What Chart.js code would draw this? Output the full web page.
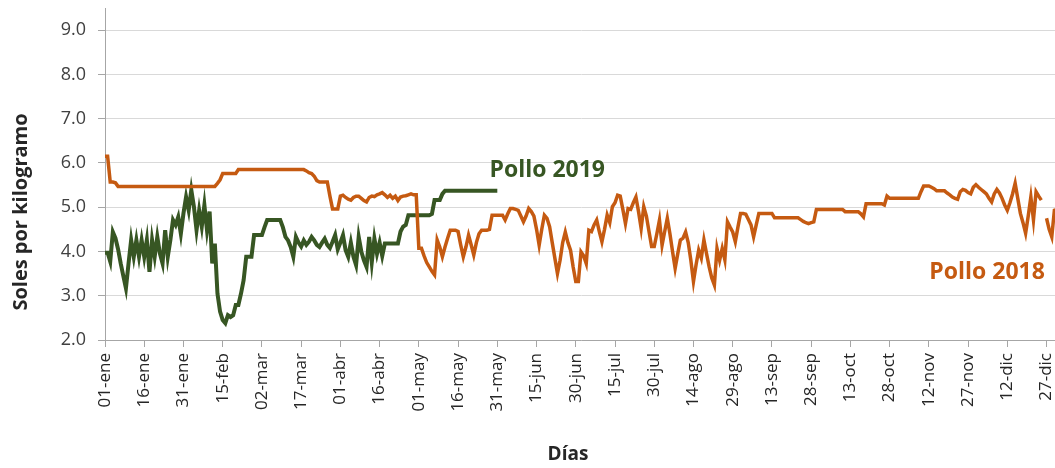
<!DOCTYPE html>
<html>
<head>
<meta charset="utf-8">
<script src="https://cdn.jsdelivr.net/npm/chart.js@4.4.1/dist/chart.umd.min.js"></script>
<style>
  html, body { margin: 0; padding: 0; background: #fff; overflow: hidden; }
  #wrap { position: absolute; left: 0; top: 0; width: 1075px; height: 468px; }
</style>
</head>
<body>
<div id="wrap"><canvas id="pollo"></canvas></div>
<script>
// months and day labels (2018, no leap day)
const months = ['ene', 'feb', 'mar', 'abr', 'may', 'jun', 'jul', 'ago', 'sep', 'oct', 'nov', 'dic'];
const monthDays = [31, 28, 31, 30, 31, 30, 31, 31, 30, 31, 30, 31];
const dayLabels = [];
months.forEach((m, i) => {
    for (let d = 1; d <= monthDays[i]; d++) {
        dayLabels.push(String(d).padStart(2, '0') + '-' + m);
    }
});

const yTicks = [2, 3, 4, 5, 6, 7, 8, 9];

// Pollo 2018, soles por kilogramo (one value per day)
const pollo2018 = [
    6.15, 6.15, 5.57, 5.57, 5.55, 5.47, 5.47, 5.47, 5.47, 5.47, 5.47, 5.47, 5.47, 5.47, 5.47,
    5.47, 5.47, 5.47, 5.47, 5.47, 5.47, 5.47, 5.47, 5.47, 5.47, 5.47, 5.47, 5.47, 5.47, 5.47,
    5.47, 5.47, 5.47, 5.47, 5.47, 5.47, 5.47, 5.47, 5.47, 5.47, 5.47, 5.47, 5.47, 5.54, 5.62,
    5.76, 5.76, 5.76, 5.76, 5.76, 5.76, 5.85, 5.85, 5.85, 5.85, 5.85, 5.85, 5.85, 5.85, 5.85,
    5.85, 5.85, 5.85, 5.85, 5.85, 5.85, 5.85, 5.85, 5.85, 5.85, 5.85, 5.85, 5.85, 5.85, 5.85,
    5.85, 5.85, 5.82, 5.78, 5.76, 5.70, 5.60, 5.57, 5.57, 5.57, 5.57, 5.25, 4.96, 4.96, 4.96,
    5.25, 5.27, 5.22, 5.18, 5.16, 5.22, 5.25, 5.25, 5.20, 5.15, 5.12, 5.22, 5.25, 5.24, 5.28,
    5.30, 5.33, 5.28, 5.22, 5.27, 5.20, 5.25, 5.15, 5.23, 5.25, 5.26, 5.28, 5.30, 5.28, 5.28,
    4.07, 4.07, 3.90, 3.75, 3.65, 3.55, 3.47, 4.26, 4.10, 3.88, 4.10, 4.30, 4.48, 4.48, 4.48,
    4.45, 4.15, 3.88, 4.10, 4.37, 4.15, 3.92, 4.20, 4.40, 4.48, 4.48, 4.48, 4.50, 4.82, 4.82,
    4.82, 4.82, 4.82, 4.71, 4.85, 4.97, 4.97, 4.95, 4.93, 4.80, 4.67, 4.80, 4.97, 4.90, 4.80,
    4.50, 4.14, 4.50, 4.82, 4.75, 4.56, 4.20, 3.85, 3.50, 3.80, 4.20, 4.44, 4.20, 4.03, 3.65,
    3.32, 3.32, 3.99, 3.90, 3.73, 4.48, 4.45, 4.60, 4.71, 4.45, 4.22, 4.50, 4.82, 4.65, 5.01,
    5.10, 5.27, 5.25, 4.95, 4.63, 4.97, 4.95, 5.10, 5.23, 4.90, 4.52, 5.01, 4.80, 4.45, 4.11,
    4.11, 4.40, 4.71, 4.14, 4.45, 4.75, 4.40, 4.00, 3.62, 3.95, 4.26, 4.30, 4.44, 4.20, 3.80,
    3.32, 3.70, 4.03, 3.85, 4.26, 3.95, 3.65, 3.40, 3.24, 4.07, 3.80, 4.07, 3.81, 4.67, 4.55,
    4.44, 4.22, 4.55, 4.86, 4.86, 4.84, 4.72, 4.60, 4.33, 4.60, 4.86, 4.86, 4.86, 4.86, 4.86,
    4.86, 4.76, 4.76, 4.76, 4.76, 4.76, 4.76, 4.76, 4.76, 4.76, 4.76, 4.72, 4.68, 4.65, 4.63,
    4.65, 4.67, 4.95, 4.95, 4.95, 4.95, 4.95, 4.95, 4.95, 4.95, 4.95, 4.95, 4.95, 4.90, 4.90,
    4.90, 4.90, 4.90, 4.90, 4.85, 4.78, 5.08, 5.08, 5.08, 5.08, 5.08, 5.08, 5.08, 5.05, 5.25,
    5.20, 5.20, 5.20, 5.20, 5.20, 5.20, 5.20, 5.20, 5.20, 5.20, 5.20, 5.20, 5.35, 5.48, 5.48,
    5.48, 5.45, 5.42, 5.37, 5.37, 5.37, 5.37, 5.32, 5.28, 5.23, 5.20, 5.18, 5.35, 5.40, 5.38,
    5.33, 5.30, 5.45, 5.51, 5.45, 5.40, 5.35, 5.30, 5.20, 5.12, 5.30, 5.40, 5.32, 5.20, 5.05,
    4.93, 5.10, 5.30, 5.54, 5.20, 4.86, 4.65, 4.41, 4.80, 5.23, 4.71, 5.35, 5.25, 5.16, null,
    4.75, 4.50, 4.33, 4.93, 4.95
];

// Pollo 2019, 01-ene to 31-may
const pollo2019 = [
    3.97, 3.97, 3.77, 4.44, 4.30, 4.05, 3.73, 3.45, 3.17, 3.73, 4.26, 3.88, 4.26, 3.88, 4.26,
    3.88, 4.26, 3.54, 4.26, 3.88, 4.33, 3.95, 3.73, 4.48, 3.88, 4.26, 4.71, 4.60, 4.78, 4.40,
    4.86, 5.23, 4.93, 5.39, 5.01, 4.48, 4.93, 4.56, 5.05, 4.48, 4.90, 3.73, 4.18, 3.05, 2.64,
    2.45, 2.38, 2.56, 2.52, 2.56, 2.79, 2.79, 3.05, 3.35, 3.88, 3.88, 3.88, 4.37, 4.37, 4.37,
    4.37, 4.55, 4.71, 4.71, 4.71, 4.71, 4.71, 4.71, 4.55, 4.33, 4.25, 4.10, 3.88, 4.33, 4.20,
    4.11, 4.25, 4.15, 4.22, 4.33, 4.25, 4.15, 4.10, 4.20, 4.29, 4.15, 4.08, 4.22, 4.37, 4.05,
    4.20, 4.37, 4.03, 3.88, 4.20, 3.88, 3.69, 4.33, 4.00, 3.80, 3.65, 4.33, 3.75, 4.29, 3.95,
    4.20, 3.90, 4.18, 4.18, 4.18, 4.18, 4.18, 4.18, 4.45, 4.56, 4.60, 4.82, 4.82, 4.82, 4.82,
    4.82, 4.82, 4.82, 4.82, 4.82, 4.85, 5.16, 5.16, 5.16, 5.30, 5.37, 5.37, 5.37, 5.37, 5.37,
    5.37, 5.37, 5.37, 5.37, 5.37, 5.37, 5.37, 5.37, 5.37, 5.37, 5.37, 5.37, 5.37, 5.37, 5.37,
    5.37
];

const orange = '#C55A11';
const green = '#375623';
const axisGrey = '#a6a6a6';
const gridGrey = '#d9d9d9';
const titleColor = '#262626';

// series names next to the lines, plus the two axis titles
const chartText = {
    id: 'chartText',
    afterDatasetsDraw(chart) {
        const { ctx, scales } = chart;
        ctx.save();
        ctx.font = 'bold 23px "Open Sans"';
        ctx.textBaseline = 'middle';
        ctx.textAlign = 'left';
        ctx.fillStyle = green;
        ctx.fillText('Pollo 2019', scales.x.getPixelForValue(147.0), scales.y.getPixelForValue(5.84));
        ctx.fillStyle = orange;
        ctx.fillText('Pollo 2018', scales.x.getPixelForValue(315.2), scales.y.getPixelForValue(3.53));

        ctx.fillStyle = titleColor;
        ctx.textAlign = 'center';
        ctx.font = 'bold 19px "Open Sans"';
        ctx.fillText('Días', 568, 455);
        ctx.translate(21, 212);
        ctx.rotate(-Math.PI / 2);
        ctx.font = 'bold 20px "Open Sans"';
        ctx.fillText('Soles por kilogramo', 0, 0);
        ctx.restore();
    }
};

const ctx = document.getElementById('pollo').getContext('2d');
const chart = new Chart(ctx, {
    type: 'line',
    data: {
        labels: dayLabels,
        datasets: [{
            label: 'Pollo 2018',
            data: pollo2018,
            borderColor: orange,
            borderWidth: 3.5,
            pointRadius: 0,
            tension: 0,
            spanGaps: false
        }, {
            label: 'Pollo 2019',
            data: pollo2019,
            borderColor: green,
            borderWidth: 4,
            pointRadius: 0,
            tension: 0
        }]
    },
    options: {
        responsive: true,
        maintainAspectRatio: false,
        animation: false,
        layout: { padding: { top: 8, right: 18, left: 0, bottom: 0 } },
        plugins: {
            legend: { display: false },
            tooltip: { enabled: false }
        },
        scales: {
            x: {
                grid: { drawOnChartArea: false, tickLength: 7, tickColor: axisGrey },
                border: { color: axisGrey },
                ticks: {
                    autoSkip: false,
                    minRotation: 90,
                    maxRotation: 90,
                    padding: 6,
                    color: '#262626',
                    font: { family: 'Open Sans', size: 17 },
                    callback: (v, i) => (i % 15 === 0 ? dayLabels[i] : null)
                },
                afterFit: (s) => { s.height = 128; s.paddingTop = 0; s.paddingBottom = 0; }
            },
            y: {
                min: 2,
                max: 9.5,
                grid: { color: gridGrey, tickLength: 7, tickColor: axisGrey },
                border: { color: axisGrey },
                afterBuildTicks: (s) => { s.ticks = yTicks.map(v => ({ value: v })); },
                ticks: {
                    color: '#404040',
                    padding: 12,
                    font: { family: 'Open Sans', size: 18 },
                    callback: (v) => v.toFixed(1)
                },
                afterFit: (s) => { s.width = 105; s.paddingTop = 0; s.paddingBottom = 0; }
            }
        }
    },
    plugins: [chartText]
});
</script>
</body>
</html>
